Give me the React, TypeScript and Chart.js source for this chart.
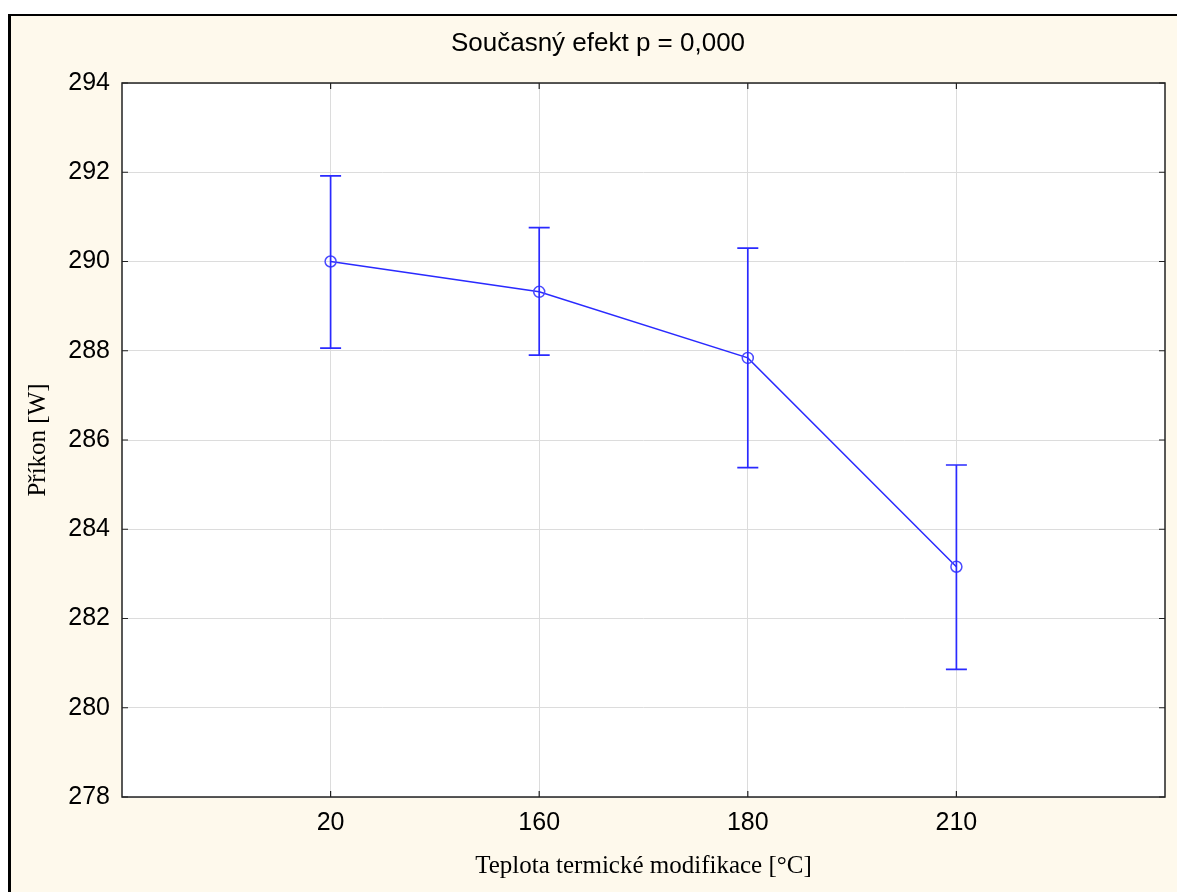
import React, { useEffect, useRef } from 'react';
import { Chart, registerables } from 'chart.js';

Chart.register(...registerables);

// ---- data ----
const categories = ['20', '160', '180', '210'];
const means = [290.0, 289.32, 287.84, 283.16];
const upper = [291.92, 290.76, 290.3, 285.44];
const lower = [288.06, 287.9, 285.38, 280.86];
const yTicks = [278, 280, 282, 284, 286, 288, 290, 292, 294];
const titleText = 'Současný efekt p = 0,000';
const xTitle = 'Teplota termické modifikace [°C]';
const yTitle = 'Příkon [W]';

const BLUE = '#2a2aff';
const CW = 1166;
const CH = 876;

const framePlugin = {
  id: 'framePlugin',
  beforeDraw(chart: any) {
    const { ctx, chartArea: a } = chart;
    ctx.save();
    ctx.fillStyle = '#ffffff';
    ctx.fillRect(a.left, a.top, a.right - a.left, a.bottom - a.top);
    ctx.restore();
  },
  afterDatasetsDraw(chart: any) {
    const { ctx, scales } = chart;
    const xs = scales.x;
    const ys = scales.y;
    // error bars
    ctx.save();
    ctx.strokeStyle = BLUE;
    ctx.lineWidth = 1.7;
    const cap = 10.5;
    for (let i = 0; i < categories.length; i++) {
      const px = xs.getPixelForValue(i + 1);
      const pu = ys.getPixelForValue(upper[i]);
      const pl = ys.getPixelForValue(lower[i]);
      ctx.beginPath();
      ctx.moveTo(px, pu);
      ctx.lineTo(px, pl);
      ctx.moveTo(px - cap, pu);
      ctx.lineTo(px + cap, pu);
      ctx.moveTo(px - cap, pl);
      ctx.lineTo(px + cap, pl);
      ctx.stroke();
    }
    ctx.restore();
  },
  afterDraw(chart: any) {
    const { ctx, chartArea: a, scales } = chart;
    const xs = scales.x;
    const ys = scales.y;
    ctx.save();
    ctx.strokeStyle = '#222222';
    ctx.lineWidth = 1.5;
    ctx.strokeRect(a.left, a.top, a.right - a.left, a.bottom - a.top);
    // inside ticks
    const tl = 6;
    ctx.lineWidth = 1.2;
    ctx.beginPath();
    for (const v of yTicks) {
      const py = ys.getPixelForValue(v);
      ctx.moveTo(a.left, py);
      ctx.lineTo(a.left + tl, py);
      ctx.moveTo(a.right, py);
      ctx.lineTo(a.right - tl, py);
    }
    for (let i = 0; i < categories.length; i++) {
      const px = xs.getPixelForValue(i + 1);
      ctx.moveTo(px, a.top);
      ctx.lineTo(px, a.top + tl);
      ctx.moveTo(px, a.bottom);
      ctx.lineTo(px, a.bottom - tl);
    }
    ctx.stroke();
    ctx.restore();
  },
};

export default function App() {
  const ref = useRef<HTMLCanvasElement | null>(null);

  useEffect(() => {
    document.body.style.overflow = 'hidden';
    const canvas = ref.current;
    if (!canvas) return;
    const chart = new Chart(canvas, {
      type: 'line',
      data: {
        datasets: [
          {
            data: means.map((m, i) => ({ x: i + 1, y: m })),
            borderColor: BLUE,
            borderWidth: 1.5,
            pointRadius: 5.5,
            pointBorderWidth: 1.5,
            pointBorderColor: '#4a4aff',
            pointBackgroundColor: 'rgba(0,0,0,0)',
            fill: false,
            tension: 0,
          },
        ],
      },
      options: {
        animation: false,
        responsive: false,
        devicePixelRatio: 1,
        layout: { padding: { left: 20, right: 12, top: 0, bottom: 0 } },
        plugins: {
          legend: { display: false },
          tooltip: { enabled: false },
          title: {
            display: true,
            text: titleText,
            color: '#000000',
            font: { family: '"Liberation Sans", Arial, sans-serif', size: 26, weight: 'normal', lineHeight: 1.2 },
            padding: { top: 12, bottom: 23.8 },
          },
        },
        scales: {
          x: {
            type: 'linear',
            min: 0,
            max: 5,
            afterBuildTicks: (scale: any) => {
              scale.ticks = categories.map((_, i) => ({ value: i + 1 }));
            },
            afterFit: (scale: any) => {
              scale.height = 95;
            },
            ticks: {
              color: '#000000',
              padding: 11,
              maxRotation: 0,
              autoSkip: false,
              font: { family: '"Liberation Sans", Arial, sans-serif', size: 25 },
              callback: (v: any) => {
                const idx = Math.round(Number(v)) - 1;
                return categories[idx] ?? '';
              },
            },
            grid: { color: '#dcdcdc', lineWidth: 1, drawTicks: false },
            border: { display: false },
            title: {
              display: true,
              text: xTitle,
              color: '#000000',
              font: { family: '"Liberation Serif", "Times New Roman", serif', size: 25, lineHeight: 1.2 },
              padding: { top: 0, bottom: 11 },
            },
          },
          y: {
            type: 'linear',
            min: 278,
            max: 294,
            afterBuildTicks: (scale: any) => {
              scale.ticks = yTicks.map((v) => ({ value: v }));
            },
            afterFit: (scale: any) => {
              scale.width = 91;
            },
            ticks: {
              color: '#000000',
              padding: 12,
              font: { family: '"Liberation Sans", Arial, sans-serif', size: 25 },
              callback: (v: any) => String(v),
            },
            grid: { color: '#dcdcdc', lineWidth: 1, drawTicks: false },
            border: { display: false },
            title: {
              display: true,
              text: yTitle,
              color: '#000000',
              font: { family: '"Liberation Serif", "Times New Roman", serif', size: 25, lineHeight: 1.2 },
              padding: { top: -8, bottom: 0 },
            },
          },
        },
      } as any,
      plugins: [framePlugin],
    });
    return () => chart.destroy();
  }, []);

  return (
    <div
      style={{
        position: 'absolute',
        left: 8,
        top: 14,
        width: 1169,
        height: 878,
        boxSizing: 'border-box',
        borderTop: '2px solid #000000',
        borderLeft: '3px solid #000000',
        background: '#FEF9EC',
        overflow: 'hidden',
      }}
    >
      <canvas ref={ref} width={CW} height={CH} style={{ display: 'block', width: CW, height: CH }} />
    </div>
  );
}
